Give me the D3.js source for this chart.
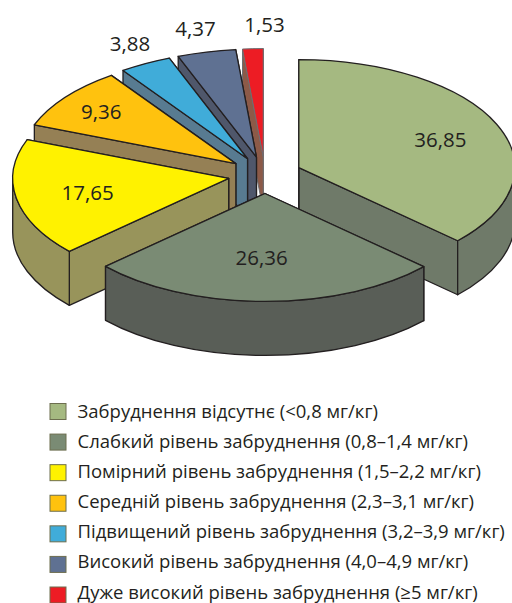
<!DOCTYPE html>
<html>
<head>
<meta charset="utf-8">
<style>
  body { margin: 0; background: #fff; }
  text { font-family: "Open Sans", sans-serif; fill: #231f20; }
</style>
<script src="https://cdn.jsdelivr.net/npm/d3@7"></script>
</head>
<body>
<div id="chart-area"></div>
<script>
// data
var categories = [
  "Забруднення відсутнє (<0,8 мг/кг)",
  "Слабкий рівень забруднення (0,8–1,4 мг/кг)",
  "Помірний рівень забруднення (1,5–2,2 мг/кг)",
  "Середній рівень забруднення (2,3–3,1 мг/кг)",
  "Підвищений рівень забруднення (3,2–3,9 мг/кг)",
  "Високий рівень забруднення (4,0–4,9 мг/кг)",
  "Дуже високий рівень забруднення (≥5 мг/кг)"
];
var values = [36.85, 26.36, 17.65, 9.36, 3.88, 4.37, 1.53];
var valueLabels = ["36,85", "26,36", "17,65", "9,36", "3,88", "4,37", "1,53"];

// colours
var topColors = ["#a5b981", "#7a8b74", "#fff200", "#ffc20e", "#40acd9", "#5f7192", "#ed1c24"];
var wallColors = ["#6f7a69", "#595e57", "#98945b", "#958055", "#587b91", "#4f576b", "#8c5a48"];

// pie geometry
var width = 512, height = 603;
var cx = 265, cy = 175, rx = 216, ry = 108, depth = 54;
var explode = 0.171;
var labelRadius = [0.7, 0.6, 0.66, 0.79, 1.18, 1.22, 1.22];
var labelShiftX = [3, -3, -1, 0, 3, 0, 14];
var labelShiftY = [3, 0, 1, 1, -3, 0, 0];

var svg = d3.select("#chart-area")
  .append("svg")
    .attr("width", width)
    .attr("height", height);

var x = d3.scaleLinear().domain([-1, 1]).range([cx - rx, cx + rx]);
var y = d3.scaleLinear().domain([-1, 1]).range([cy - ry, cy + ry]);

var pie = d3.pie().sort(null).value(function(d) { return d; });
var slices = pie(values).map(function(d, i) {
  var mid = (d.startAngle + d.endAngle) / 2;
  d.index = i;
  d.mid = mid;
  d.ox = explode * Math.sin(mid);
  d.oy = -explode * Math.cos(mid);
  return d;
});

// point of the top rim at a given angle, r = 1 is the rim, 0 the slice tip
function rim(d, a, r) {
  return [x(d.ox + r * Math.sin(a)), y(d.oy - r * Math.cos(a))];
}

function arcTo(p, large, sweep) {
  return "A" + rx + "," + ry + " 0 " + large + " " + sweep + " " + p[0] + "," + p[1];
}

function topPath(d) {
  var tip = rim(d, 0, 0), a = rim(d, d.startAngle, 1), b = rim(d, d.endAngle, 1);
  var large = d.endAngle - d.startAngle > Math.PI ? 1 : 0;
  return "M" + tip + "L" + a + arcTo(b, large, 1) + "Z";
}

function radialWall(d, angle) {
  var tip = rim(d, 0, 0), a = rim(d, angle, 1);
  return "M" + tip + "L" + a + "L" + [a[0], a[1] + depth] + "L" + [tip[0], tip[1] + depth] + "Z";
}

// only the part of the rim between 90 and 270 degrees faces us
function rimWall(d) {
  var a0 = Math.max(d.startAngle, Math.PI / 2), a1 = Math.min(d.endAngle, Math.PI * 1.5);
  if (a1 <= a0) return null;
  var p = rim(d, a0, 1), q = rim(d, a1, 1);
  return "M" + p + arcTo(q, 0, 1) + "L" + [q[0], q[1] + depth] +
    arcTo([p[0], p[1] + depth], 0, 0) + "Z";
}

// back slices first, the big front one last
var drawOrder = [6, 5, 4, 3, 2, 0, 1];

var g = svg.selectAll("g.slice")
  .data(drawOrder.map(function(i) { return slices[i]; }))
  .enter()
  .append("g")
    .attr("class", "slice")
    .attr("stroke", function(d) { return d.index == 6 ? "#6d6e71" : "#231f20"; })
    .attr("stroke-width", function(d) { return d.index == 6 ? 1 : 1.3; })
    .attr("stroke-linejoin", "round");

g.append("path")
  .attr("d", function(d) { return radialWall(d, d.endAngle); })
  .attr("fill", function(d) { return wallColors[d.index]; });
g.append("path")
  .attr("d", function(d) { return radialWall(d, d.startAngle); })
  .attr("fill", function(d) { return wallColors[d.index]; });
g.append("path")
  .attr("d", rimWall)
  .attr("fill", function(d) { return wallColors[d.index]; });
g.append("path")
  .attr("d", topPath)
  .attr("fill", function(d) { return topColors[d.index]; });

// value labels
svg.selectAll("text.value")
  .data(slices)
  .enter()
  .append("text")
    .attr("class", "value")
    .attr("x", function(d, i) { return rim(d, d.mid, labelRadius[i])[0] + labelShiftX[i]; })
    .attr("y", function(d, i) { return rim(d, d.mid, labelRadius[i])[1] + labelShiftY[i]; })
    .attr("dy", "0.35em")
    .attr("text-anchor", "middle")
    .attr("font-size", "20.5px")
    .text(function(d, i) { return valueLabels[i]; });

// legend
var boxY = d3.scalePoint().domain(categories).range([411.5, 595]);
var textY = d3.scalePoint().domain(categories).range([417.5, 598.5]);

var legend = svg.selectAll("g.legend")
  .data(categories)
  .enter()
  .append("g")
    .attr("class", "legend");

legend.append("rect")
  .attr("x", 50)
  .attr("y", function(d) { return boxY(d) - 8; })
  .attr("width", 16)
  .attr("height", 16)
  .attr("fill", function(d, i) { return topColors[i]; })
  .attr("stroke", "#6d6e4f")
  .attr("stroke-width", 1);

legend.append("text")
  .attr("x", 77.5)
  .attr("y", function(d) { return textY(d); })
  .attr("font-size", "18.5px")
  .text(function(d) { return d; });
</script>
</body>
</html>
